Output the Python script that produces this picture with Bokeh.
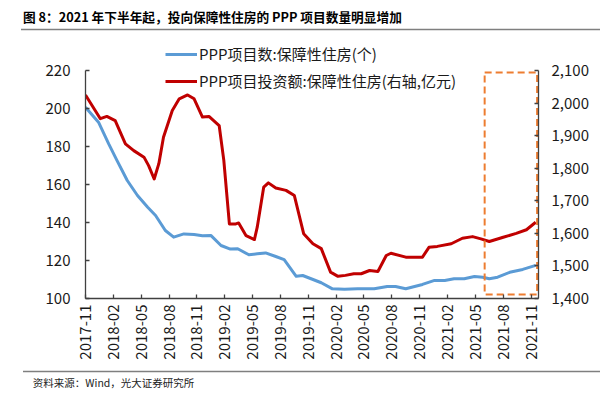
import math
from bokeh.plotting import figure
from bokeh.models import (Range1d, LinearAxis, FixedTicker, NumeralTickFormatter,
                          Legend, LegendItem)
from bokeh.layouts import column
from bokeh.core.properties import value
from bokeh.embed import file_html
from bokeh.resources import INLINE

FONT = "Noto Sans CJK SC"

title_text = "图 8：2021 年下半年起，投向保障性住房的 PPP 项目数量明显增加"
source_text = "资料来源：Wind，光大证券研究所"
blue_label = "PPP项目数:保障性住房(个)"
red_label = "PPP项目投资额:保障性住房(右轴,亿元)"

# x positions in months since 2017-11
tick_months = [0, 3, 6, 9, 12, 15, 18, 21, 24, 27, 30, 33, 36, 39, 42, 45, 48]
tick_labels = ["2017-11", "2018-02", "2018-05", "2018-08", "2018-11", "2019-02",
               "2019-05", "2019-08", "2019-11", "2020-02", "2020-05", "2020-08",
               "2020-11", "2021-02", "2021-05", "2021-08", "2021-11"]

blue_x = [0, 1.4, 2.5, 3.4, 4.5, 5.6, 6.7, 7.55, 8.6, 9.5, 10.6, 11.7, 12.6, 13.5,
          14.6, 15.6, 16.4, 17.6, 18.5, 19.4, 20.5, 21.4, 22.7, 23.4, 24.3, 25.4,
          26.6, 27.9, 29.3, 31.1, 32.5, 33.4, 34.5, 36.3, 37.6, 38.7, 39.7, 40.8,
          41.9, 42.8, 43.5, 44.4, 45.7, 47.1, 48.5]
blue_y = [200.7, 192.8, 181.4, 172.6, 162.1, 154.2, 148.0, 143.7, 135.8, 132.3, 134.0,
          133.7, 133.0, 133.2, 127.9, 126.0, 126.2, 123.0, 123.5, 124.0, 122.1, 120.5,
          111.7, 112.1, 110.4, 108.3, 105.1, 104.9, 105.1, 105.1, 106.3, 106.3, 105.1,
          107.4, 109.5, 109.5, 110.4, 110.4, 111.6, 111.2, 110.4, 111.2, 113.8, 115.3,
          117.4]

red_x = [0, 1.6, 2.3, 3.2, 4.3, 5.2, 6.3, 6.8, 7.4, 7.9, 8.4, 9.35, 10.1, 11.0, 11.7,
         12.6, 13.3, 14.4, 14.9, 15.5, 16.2, 16.5, 17.3, 18.2, 18.5, 19.2, 19.7, 20.5,
         21.6, 22.5, 23.5, 24.5, 25.4, 26.4, 27.2, 28.0, 28.9, 29.7, 30.6, 31.5, 32.4,
         32.9, 34.5, 36.3, 37.0, 37.9, 39.4, 40.6, 41.7, 42.6, 43.5, 45.0, 46.4, 47.5,
         48.5]
red_y = [2025, 1952, 1959, 1946, 1875, 1854, 1834, 1808, 1767, 1814, 1895, 1977, 2013,
         2025, 2013, 1957, 1959, 1931, 1824, 1629, 1629, 1632, 1593, 1581, 1619, 1742,
         1755, 1739, 1732, 1716, 1599, 1568, 1553, 1481, 1468, 1471, 1476, 1476, 1486,
         1483, 1532, 1539, 1527, 1527, 1557, 1560, 1568, 1585, 1590, 1583, 1575, 1588,
         1600, 1611, 1634]

left_ticks = [100, 120, 140, 160, 180, 200, 220]
right_ticks = [1400, 1500, 1600, 1700, 1800, 1900, 2000, 2100]

W = 600
TEXT_COLOR = "#1a1a1a"
AXIS_COLOR = "#404040"

# ---------- title strip ----------
top = figure(width=W, height=40, output_backend="svg", toolbar_location=None,
             x_range=Range1d(0, W), y_range=Range1d(0, 40),
             x_axis_location=None, y_axis_location=None, min_border=0,
             frame_align=False)
top.outline_line_color = None
top.grid.visible = False
top.text(x=[22.5], y=[24], text=[title_text], text_font=value(FONT),
         text_font_size=value("12.7px"), text_font_style="bold",
         text_color="#000000", text_baseline="middle", text_align="left")
top.line(x=[20.5, W], y=[11, 11], line_color="#7f7f7f", line_width=1.5)

# ---------- main chart ----------
# frame spans 258 px: 228 px for the 100..220 scale plus 30 px headroom for the legend
p = figure(width=W, height=326, output_backend="svg", toolbar_location=None,
           x_range=Range1d(0, 48.8), y_range=Range1d(100, 220 + 30 * 120 / 228),
           min_border_left=85, min_border_right=62, min_border_top=0,
           min_border_bottom=68, frame_align=False)
p.extra_y_ranges = {"right": Range1d(1400, 2100 + 30 * 700 / 228)}
p.outline_line_color = None
p.grid.visible = False

blue = p.line(blue_x, blue_y, line_color="#5B9BD5", line_width=3, line_join="round")
red = p.line(red_x, red_y, line_color="#C00000", line_width=3, line_join="round",
             y_range_name="right")

# highlight box (2021 H2)
p.quad(left=[43.0], right=[48.65], bottom=[102.1], top=[219.0], fill_alpha=0,
       line_color="#ED7D31", line_width=2, line_dash="7 4")

xa = p.xaxis[0]
xa.ticker = FixedTicker(ticks=tick_months)
xa.major_label_overrides = {m: lab for m, lab in zip(tick_months, tick_labels)}
xa.major_label_orientation = math.pi / 2
xa.major_label_standoff = 6

ya = p.yaxis[0]
ya.ticker = FixedTicker(ticks=left_ticks)
ya.major_label_standoff = 15
ya.bounds = (100, 220)

ra = LinearAxis(y_range_name="right", ticker=FixedTicker(ticks=right_ticks),
                formatter=NumeralTickFormatter(format="0,0"))
ra.major_label_standoff = 13
ra.bounds = (1400, 2100)
p.add_layout(ra, "right")

for ax in [xa, ya, ra]:
    ax.axis_line_color = AXIS_COLOR
    ax.axis_line_width = 1.3
    ax.major_tick_line_color = AXIS_COLOR
    ax.major_tick_line_width = 1.3
    ax.major_tick_in = 4
    ax.major_tick_out = 0
    ax.minor_tick_line_color = None
    ax.major_label_text_font = FONT
    ax.major_label_text_font_size = "15px"
    ax.major_label_text_color = TEXT_COLOR

legend = Legend(items=[LegendItem(label=blue_label, renderers=[blue]),
                       LegendItem(label=red_label, renderers=[red])],
                location=(80, 207), orientation="vertical", padding=0, spacing=6,
                margin=0, label_height=20, glyph_height=20, glyph_width=32,
                label_standoff=2, border_line_alpha=0, background_fill_alpha=0,
                label_text_font=FONT, label_text_font_size="15px",
                label_text_color=TEXT_COLOR)
p.add_layout(legend)

# ---------- source strip ----------
bot = figure(width=W, height=37, output_backend="svg", toolbar_location=None,
             x_range=Range1d(0, W), y_range=Range1d(0, 37),
             x_axis_location=None, y_axis_location=None, min_border=0,
             frame_align=False)
bot.outline_line_color = None
bot.grid.visible = False
bot.line(x=[22.5, W], y=[32, 32], line_color="#7f7f7f", line_width=1.5)
bot.text(x=[32.3], y=[21], text=[source_text], text_font=value(FONT),
         text_font_size=value("10.5px"), text_color="#222222",
         text_baseline="middle", text_align="left")

layout = column(top, p, bot, spacing=0)
open("out.html", "w").write(file_html(layout, INLINE))
